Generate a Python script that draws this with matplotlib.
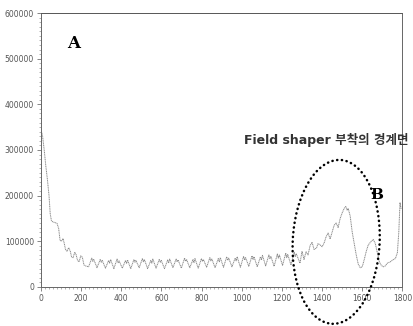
import matplotlib
matplotlib.use("Agg")
import matplotlib.pyplot as plt
from matplotlib.patches import Ellipse
from matplotlib.ticker import MultipleLocator

plt.rcParams['font.family'] = ['DejaVu Sans', 'Noto Sans CJK KR']

# signal (x = position, y = intensity)
x_start = [0, 8, 16, 24, 32, 40, 46, 52, 60, 70, 80, 88, 95, 102, 110, 116, 122,
           130, 138, 146, 152, 160, 168, 174, 182, 190, 198, 206, 214, 222]
y_start = [345000, 330000, 300000, 265000, 235000, 200000, 160000, 145000, 142000,
           141000, 139000, 128000, 102000, 100000, 106000, 95000, 82000, 78000,
           86000, 78000, 66000, 64000, 76000, 72000, 58000, 55000, 68000, 65000,
           48000, 46000]

# ripple part: trough, first peak, notch, second peak
trough_x = [237, 279, 321, 363, 405, 447, 489, 531, 573, 615, 657, 699, 741,
            783, 825, 867, 909, 951, 993, 1035, 1077, 1119, 1161, 1203, 1245]
trough_y = [44000, 42000, 41000, 40000, 41000, 40000, 42000, 40000, 41000, 40000,
            42000, 41000, 42000, 41000, 43000, 42000, 43000, 44000, 43000, 45000,
            44000, 46000, 45000, 47000, 48000]
peak1_y = [63000, 60000, 58000, 61000, 58000, 60000, 62000, 58000, 60000, 59000,
           61000, 63000, 60000, 62000, 64000, 62000, 66000, 63000, 67000, 68000,
           66000, 70000, 72000, 74000, 76000]
notch_y = [56000, 54000, 52000, 53000, 51000, 54000, 55000, 52000, 54000, 53000,
           55000, 56000, 53000, 56000, 57000, 55000, 58000, 57000, 59000, 60000,
           59000, 62000, 63000, 64000, 66000]
peak2_y = [60000, 58000, 60000, 57000, 59000, 58000, 60000, 61000, 58000, 61000,
           59000, 60000, 62000, 60000, 61000, 64000, 63000, 66000, 64000, 66000,
           69000, 67000, 70000, 71000, 73000]

x_end = [1290, 1300, 1310, 1320, 1330, 1340, 1350, 1360, 1372, 1380, 1390, 1400,
         1410, 1420, 1430, 1440, 1450, 1460, 1470, 1480, 1490, 1500, 1510, 1518,
         1525, 1530, 1540, 1550, 1560, 1570, 1580, 1590, 1600, 1610, 1620, 1630,
         1645, 1655, 1665, 1675, 1685, 1695, 1705, 1715, 1725, 1740, 1755, 1765,
         1775, 1782, 1788, 1794]
y_end = [52000, 78000, 60000, 77000, 70000, 90000, 98000, 82000, 85000, 95000,
         92000, 88000, 96000, 110000, 118000, 105000, 120000, 135000, 140000,
         130000, 150000, 162000, 172000, 176000, 168000, 172000, 155000, 120000,
         95000, 70000, 50000, 42000, 44000, 60000, 78000, 92000, 100000, 104000,
         95000, 75000, 55000, 47000, 44000, 46000, 52000, 55000, 60000, 62000,
         75000, 120000, 185000, 170000]

xs = list(x_start)
ys = list(y_start)
for t, a, b, c, d in zip(trough_x, trough_y, peak1_y, notch_y, peak2_y):
    xs += [t, t + 16, t + 21, t + 26]
    ys += [a, b, c, d]
xs += x_end
ys += y_end

fig = plt.figure(figsize=(4.14, 3.26), dpi=100)
ax = fig.add_axes([0.099, 0.12, 0.873, 0.84])

ax.plot(xs, ys, color='#8a8a8a', lw=0.7, ls=(0, (1.2, 0.6)))

ax.set_xlim(0, 1800)
ax.set_ylim(0, 600000)
ax.xaxis.set_major_locator(MultipleLocator(200))
ax.yaxis.set_major_locator(MultipleLocator(100000))
ax.xaxis.set_minor_locator(MultipleLocator(20))
ax.yaxis.set_minor_locator(MultipleLocator(10000))
ax.tick_params(labelsize=5.5, colors='#555555', length=3, width=0.5, pad=2)
ax.tick_params(which='minor', length=1.5, width=0.4, colors='#777777')

for s in ['left', 'bottom', 'right']:
    ax.spines[s].set_linestyle((0, (1, 1)))
    ax.spines[s].set_linewidth(0.7)
    ax.spines[s].set_color('#666666')
ax.spines['top'].set_color('#555555')
ax.spines['top'].set_linewidth(0.7)

ax.text(0.09, 0.89, 'A', transform=ax.transAxes, fontsize=12,
        fontweight='bold', family='DejaVu Serif', va='center', ha='center')
ax.text(0.93, 0.335, 'B', transform=ax.transAxes, fontsize=11,
        fontweight='bold', family='DejaVu Serif', va='center', ha='center')
fig.text(0.59, 0.57, 'Field shaper 부착의 경계면', fontsize=9,
         fontweight='bold', color='#333333', va='center', ha='left')

ell = Ellipse((0.812, 0.258), 0.21, 0.503, transform=fig.transFigure,
              fill=False, edgecolor='black', lw=1.8, ls=(0, (0.1, 1.8)),
              capstyle='round', angle=-2)
fig.add_artist(ell)

fig.savefig('out.png', dpi=100)
